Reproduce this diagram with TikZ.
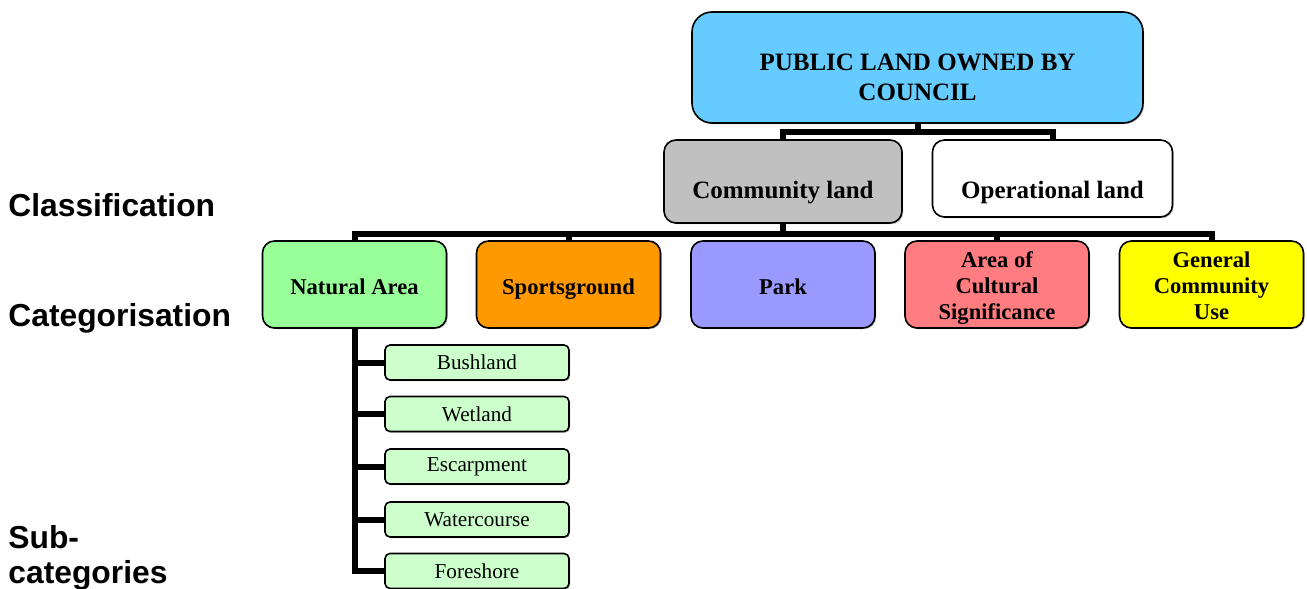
\documentclass[tikz,border=0pt]{standalone}
\usepackage{fontspec}
\setmainfont{Liberation Serif}
\setsansfont{Liberation Sans}
\usetikzlibrary{calc,shadows}
\definecolor{landblue}{HTML}{66CCFF}
\definecolor{landgrey}{HTML}{C0C0C0}
\definecolor{naturalgreen}{HTML}{99FF99}
\definecolor{sportorange}{HTML}{FF9900}
\definecolor{parkviolet}{HTML}{9999FF}
\definecolor{culturalred}{HTML}{FF7C80}
\definecolor{generalyellow}{HTML}{FFFF00}
\definecolor{subgreen}{HTML}{CCFFCC}
\newcommand{\topstrut}{\rule{0pt}{11.5pt}}
\tikzset{
	bar/.style={line width=3pt, line join=miter},
	softshadow/.style={drop shadow={shadow xshift=0.6pt, shadow yshift=-0.6pt, fill=black!55}},
	box/.style={draw, line width=0.8pt, rounded corners=6pt, inner sep=0pt, align=center, softshadow,
		font=\bfseries\fontsize{11.3}{13}\selectfont},
	catbox/.style={box, minimum width=92pt, minimum height=43.5pt, text depth=3pt},
	onelinecat/.style={catbox, text height=13pt},
	subbox/.style={draw, line width=0.8pt, rounded corners=2.5pt, fill=subgreen, inner sep=0pt, softshadow,
		minimum width=92pt, minimum height=17.5pt, font=\fontsize{10.6}{12}\selectfont},
	boxtext/.style={align=center, inner sep=0pt, font=\bfseries\fontsize{12.5}{15}\selectfont},
	levellabel/.style={anchor=west, inner sep=0pt, align=left,
		font=\sffamily\bfseries\fontsize{15.9}{17.5}\selectfont}
}

\begin{document}
\begin{tikzpicture}[x=0.5pt, y=-0.5pt]
			%%%%% START %%%%%
			\useasboundingbox (0,0) rectangle (1307,589);
			
			\node[levellabel] (classlabel) at (8,205) {Classification};
			\node[levellabel] (catlabel) at (8,318) {Categorisation};
			\node[levellabel] (sublabel) at (8,558) {Sub-\\categories};
			
			\node[box, rounded corners=10pt, fill=landblue, minimum width=225.5pt, minimum height=55.5pt,
				label={[boxtext, yshift=-4.75pt]center:PUBLIC LAND OWNED BY\\COUNCIL}] (public) at (917.5,67.5) {};
			\node[box, fill=landgrey, minimum width=119pt, minimum height=41.5pt,
				label={[boxtext, yshift=-5.75pt]center:Community land}] (community) at (783,181.5) {};
			\node[box, fill=white, minimum width=120pt, minimum height=38.5pt,
				label={[boxtext, yshift=-6.75pt]center:Operational land}] (operational) at (1052.5,178.5) {};
			
			\node[onelinecat, fill=naturalgreen] (natural) at (354.5,284.5) {Natural Area};
			\node[onelinecat, fill=sportorange] (sports) at (568.5,284.5) {Sportsground};
			\node[onelinecat, fill=parkviolet] (park) at (783,284.5) {Park};
			\node[catbox, fill=culturalred] (cultural) at (997,284.5) {\topstrut Area of\\Cultural\\Significance};
			\node[catbox, fill=generalyellow] (general) at (1211.5,284.5) {\topstrut General\\Community\\Use};
			
			\node[subbox] (bush) at (477,362.5) {Bushland};
			\node[subbox] (wet) at (477,414) {Wetland};
			\node[subbox] (escarp) at (477,466.5) {Escarpment};
			\node[subbox] (water) at (477,519.5) {Watercourse};
			\node[subbox] (fore) at (477,571) {Foreshore};
			
			\coordinate (topbar) at (917.5,132);
			\coordinate (catbar) at (783,234);
			
			\draw[bar] (public.south) -- (topbar);
			\draw[bar] (community.north) |- (topbar) -| (operational.north);
			
			\draw[bar] (community.south) -- (catbar);
			\draw[bar] (natural.north) |- (catbar) -| (general.north);
			\draw[bar] (sports.north) -- (sports.north |- catbar);
			\draw[bar] (cultural.north) -- (cultural.north |- catbar);
			
			\draw[bar] (natural.south) |- (fore.west);
			\draw[bar] (bush.west) -- (bush.west -| natural.south);
			\draw[bar] (wet.west) -- (wet.west -| natural.south);
			\draw[bar] (escarp.west) -- (escarp.west -| natural.south);
			\draw[bar] (water.west) -- (water.west -| natural.south);
			%%%%% END %%%%%
\end{tikzpicture}
\end{document}
